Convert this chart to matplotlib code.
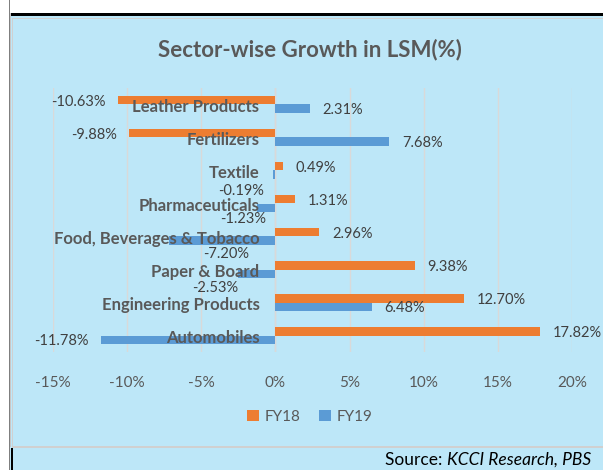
import numpy as np
import matplotlib
matplotlib.use("Agg")
from matplotlib import pyplot as plt
from matplotlib.patches import Rectangle

plt.rcParams['font.family'] = ['Lato', 'DejaVu Sans']

# data (top to bottom as shown)
sectors = ['Leather Products', 'Fertilizers', 'Textile', 'Pharmaceuticals',
           'Food, Beverages & Tobacco', 'Paper & Board', 'Engineering Products', 'Automobiles']
fy18 = [-10.63, -9.88, 0.49, 1.31, 2.96, 9.38, 12.70, 17.82]
fy19 = [2.31, 7.68, -0.19, -1.23, -7.20, -2.53, 6.48, -11.78]
x_ticks = [-15, -10, -5, 0, 5, 10, 15, 20]

# FY19 labels that were dragged below their bars: (right edge px from zero, px below bar)
moved_fy19 = {2: (-11, 15), 3: (-9, 10), 4: (-26, 12), 5: (-37, 13)}

W, H = 603, 470
BG = '#BDE7F8'
ORANGE = '#ED7D31'
BLUE = '#5B9BD5'
GREY_TXT = '#595959'
PX = 0.72  # points per pixel at dpi 100

fig = plt.figure(figsize=(W / 100, H / 100), dpi=100, facecolor=BG)


def box(x0, y0, x1, y1, color):
    # rectangle in pixel coords, y measured from the top
    fig.add_artist(Rectangle((x0 / W, 1 - y1 / H), (x1 - x0) / W, (y1 - y0) / H,
                             transform=fig.transFigure, facecolor=color,
                             edgecolor='none', zorder=0))


# frame decorations around the chart
box(0, 0, W, 13, 'white')
box(0, 0, 9, H, 'white')
box(9, 0, 10, H, '#7F7F7F')
box(10, 13, 11, 447, '#C8C8C8')
box(11, 13, W, 15.5, 'black')
box(12, 18, W, 19, '#D0D0D0')
box(12, 18, 13, 447, '#D0D0D0')
box(12, 446, W, 447.5, '#D0D0D0')
box(11, 447.5, 13, H, 'black')

ax = fig.add_axes([53 / W, 1 - 352 / H, (572 - 53) / W, (352 - 88) / H])
ax.set_facecolor(BG)

y = np.arange(len(sectors))
h = 0.27
ax.barh(y - h / 2, fy18, height=h, color=ORANGE, label='FY18', zorder=3)
ax.barh(y + h / 2, fy19, height=h, color=BLUE, label='FY19', zorder=3)

ax.set_xlim(-15, 20)
ax.set_ylim(len(sectors) - 0.5, -0.5)
ax.set_xticks(x_ticks)
ax.set_xticklabels([f'{t}%' for t in x_ticks])
ax.set_yticks([])
ax.grid(axis='x', color='#D9D9D9', linewidth=1, zorder=0)
ax.axvline(0, color='#D9D9D9', linewidth=1, zorder=2)
for s in ax.spines.values():
    s.set_visible(False)
ax.tick_params(axis='x', length=0, pad=17, labelsize=11, labelcolor=GREY_TXT)

# category labels next to the zero line
for i, name in enumerate(sectors):
    ax.annotate(name, xy=(0, i), xytext=(-16 * PX, -2.5 * PX), textcoords='offset points',
                ha='right', va='center', fontsize=12, fontweight='bold',
                color=GREY_TXT, zorder=4)


def bar_label(v, yc, dx=None, dy=0):
    txt = f'{v:.2f}%'
    if dx is None:
        off = 13 * PX if v >= 0 else -12 * PX
        ax.annotate(txt, xy=(v, yc), xytext=(off, -1.5 * PX), textcoords='offset points',
                    ha='left' if v >= 0 else 'right', va='center',
                    fontsize=10.5, color='#404040', zorder=4)
    else:
        ax.annotate(txt, xy=(0, yc), xytext=(dx * PX, -(dy + 1.5) * PX), textcoords='offset points',
                    ha='right', va='center', fontsize=10.5, color='#404040', zorder=4)


for i in range(len(sectors)):
    bar_label(fy18[i], i - h / 2)
    if i in moved_fy19:
        dx, dy = moved_fy19[i]
        bar_label(fy19[i], i + h / 2, dx, dy)
    else:
        bar_label(fy19[i], i + h / 2)

fig.text(310 / W, 1 - 50 / H, 'Sector-wise Growth in LSM(%)', ha='center', va='center',
         fontsize=16, fontweight='bold', color=GREY_TXT)

fig.legend(loc='center', bbox_to_anchor=(310 / W, 1 - 417 / H), ncol=2, frameon=False,
           handlelength=0.75, handleheight=0.75, handletextpad=0.4, columnspacing=1.2,
           prop={'size': 11}, labelcolor=GREY_TXT)

t1 = fig.text(385 / W, 1 - 460 / H, 'Source: ', ha='left', va='center', fontsize=12.5, color='black')
fig.canvas.draw()
bb = t1.get_window_extent()
fig.text(bb.x1 / W, 1 - 460 / H, 'KCCI Research, PBS', ha='left', va='center',
         fontsize=12.5, style='italic', color='black')

fig.savefig('out.png', dpi=100, facecolor=BG)
